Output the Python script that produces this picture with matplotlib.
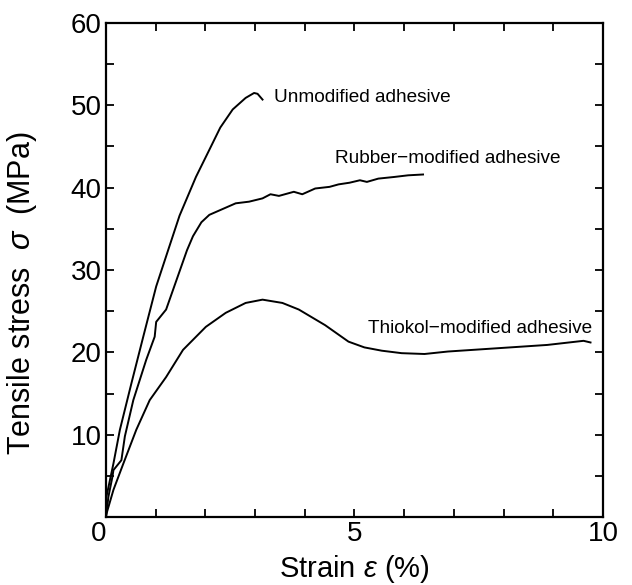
import matplotlib
matplotlib.use("Agg")
import matplotlib.pyplot as plt

plt.rcParams['font.family'] = ['Liberation Sans', 'DejaVu Sans']
plt.rcParams['mathtext.fontset'] = 'custom'
plt.rcParams['mathtext.it'] = 'Liberation Sans:italic'
plt.rcParams['mathtext.rm'] = 'Liberation Sans'

# strain (%) and tensile stress (MPa)
unmod_strain = [0.0, 0.01, 0.15, 0.28, 0.51, 0.75, 1.01, 1.25, 1.48, 1.81, 2.08, 2.3, 2.55, 2.81,
                2.98, 3.05, 3.15]
unmod_stress = [0.0, 2.5, 6.5, 10.6, 16.2, 21.9, 28.0, 32.4, 36.6, 41.3, 44.6, 47.3, 49.5, 50.9,
                51.5, 51.4, 50.7]

rubber_strain = [0.0, 0.05, 0.13, 0.15, 0.31, 0.38, 0.55, 0.81, 0.98, 1.01, 1.21, 1.63, 1.75, 1.92,
                 2.08, 2.61, 2.88, 3.15, 3.31, 3.48, 3.78, 3.95, 4.21, 4.5, 4.68, 4.9, 5.11, 5.25,
                 5.48, 5.8, 6.08, 6.38]
rubber_stress = [0.0, 2.5, 4.9, 5.7, 6.9, 9.8, 14.2, 19.1, 21.9, 23.7, 25.2, 32.4, 34.1, 35.8,
                 36.7, 38.1, 38.3, 38.7, 39.2, 39.0, 39.5, 39.2, 39.9, 40.1, 40.4, 40.6, 40.9, 40.7,
                 41.1, 41.3, 41.5, 41.6]

thiokol_strain = [0.0, 0.01, 0.15, 0.35, 0.61, 0.88, 1.21, 1.55, 2.01, 2.41, 2.81, 3.15, 3.55, 3.88,
                  4.41, 4.88, 5.2, 5.55, 5.95, 6.41, 6.88, 7.88, 8.88, 9.61, 9.75]
thiokol_stress = [0.0, 0.4, 3.3, 6.5, 10.6, 14.2, 17.0, 20.3, 23.1, 24.8, 26.0, 26.4, 26.0, 25.2,
                  23.3, 21.3, 20.6, 20.2, 19.9, 19.8, 20.1, 20.5, 20.9, 21.4, 21.2]

curve_labels = ["Unmodified adhesive", "Rubber\u2212modified adhesive", "Thiokol\u2212modified adhesive"]
label_pos = [(3.38, 51.0), (4.6, 43.5), (5.28, 22.9)]

x_ticks = list(range(0, 11))
x_ticklabels = ["0", "", "", "", "", "5", "", "", "", "", "10"]
y_ticks = list(range(5, 61, 5))
y_ticklabels = ["", "10", "", "20", "", "30", "", "40", "", "50", "", "60"]

fig = plt.figure(figsize=(6.32, 5.85), dpi=100)
ax = fig.add_axes([0.1677, 0.1162, 0.7863, 0.8445])

for xs, ys in [(unmod_strain, unmod_stress), (rubber_strain, rubber_stress), (thiokol_strain, thiokol_stress)]:
    ax.plot(xs, ys, color="black", lw=1.4, solid_joinstyle="round")

for txt, (tx, ty) in zip(curve_labels, label_pos):
    ax.text(tx, ty, txt, fontsize=13.7, va="center", ha="left")

ax.set_xlim(0, 10)
ax.set_ylim(0, 60)
ax.set_xticks(x_ticks)
ax.set_xticklabels(x_ticklabels)
ax.set_yticks(y_ticks)
ax.set_yticklabels(y_ticklabels)
ax.tick_params(direction="in", length=6, width=1.3, top=True, right=True, labelsize=20, pad=3)
ax.get_xticklabels()[0].set_ha("right")

for s in ax.spines.values():
    s.set_linewidth(1.6)

ax.set_xlabel(r"Strain $\varepsilon$ (%)", fontsize=21, labelpad=4)
ax.set_ylabel(r"Tensile stress  $\sigma$  (MPa)", fontsize=22)
ax.yaxis.set_label_coords(-0.135, 0.453)

fig.savefig("out.png", dpi=100)
